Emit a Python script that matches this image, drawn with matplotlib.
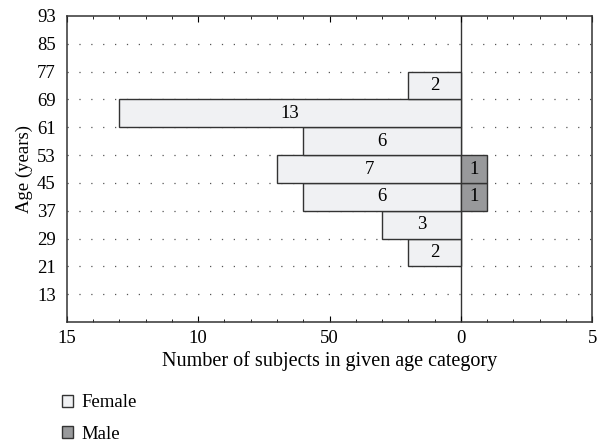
"""Age distribution of subjects by sex, back-to-back horizontal bars."""

import matplotlib

matplotlib.use("Agg")
import matplotlib.pyplot as plt
from matplotlib.patches import Patch

age_bins = [21, 29, 37, 45, 53, 61, 69]
female = [2, 3, 6, 7, 6, 13, 2]
male = [0, 0, 1, 1, 0, 0, 0]
bin_width = 8

y_ticks = [13, 21, 29, 37, 45, 53, 61, 69, 77, 85, 93]
x_ticks = [-15, -10, -5, 0, 5]
x_tick_labels = ["15", "10", "50", "0", "5"]

FEMALE_FC = "#f0f1f3"
MALE_FC = "#98999b"
EDGE = "#333333"
FS = 13.5

plt.rcParams["font.family"] = ["Liberation Serif", "DejaVu Serif"]

fig = plt.figure(figsize=(5.97, 4.43), dpi=100)
ax = fig.add_axes([0.112, 0.273, 0.880, 0.691])

ax.set_xlim(-15, 5)
ax.set_ylim(5, 93)

for y in y_ticks[:-1]:
    ax.axhline(y, color="#555555", lw=0.9, ls=(0, (1, 8.5)), zorder=0)

ax.barh(age_bins, [-v for v in female], height=bin_width, align="edge",
        color=FEMALE_FC, edgecolor=EDGE, lw=1.0, zorder=2)
for y, v in zip(age_bins, female):
    ax.text(-v / 2, y + bin_width / 2, str(v), ha="center", va="center",
            fontsize=FS, zorder=3)

for y, v in zip(age_bins, male):
    if v == 0:
        continue
    ax.barh(y, v, height=bin_width, align="edge", color=MALE_FC,
            edgecolor=EDGE, lw=1.0, zorder=2)
    ax.text(v / 2, y + bin_width / 2, str(v), ha="center", va="center",
            fontsize=FS, zorder=3)

ax.axvline(0, color=EDGE, lw=1.0, zorder=1)

ax.set_xticks(x_ticks)
ax.set_xticklabels(x_tick_labels)
ax.set_xticks(range(-15, 6), minor=True)
ax.set_yticks(y_ticks)
ax.tick_params(axis="x", which="both", direction="in", top=True,
               labelsize=FS, pad=6)
ax.tick_params(axis="x", which="major", length=4)
ax.tick_params(axis="x", which="minor", length=2)
ax.tick_params(axis="y", length=0, labelsize=FS, pad=8)

for s in ax.spines.values():
    s.set_color(EDGE)
    s.set_linewidth(1.1)

ax.set_xlabel("Number of subjects in given age category", fontsize=14.5, labelpad=3)
ax.set_ylabel("Age (years)", fontsize=FS, labelpad=3)

handles = [
    Patch(facecolor=FEMALE_FC, edgecolor=EDGE, label="Female"),
    Patch(facecolor=MALE_FC, edgecolor=EDGE, label="Male"),
]
fig.legend(handles=handles, loc="lower left", bbox_to_anchor=(0.075, -0.037),
           frameon=False, fontsize=FS, handlelength=0.6, handleheight=0.6,
           handletextpad=0.45, labelspacing=0.75)

fig.savefig("out.png", dpi=100, facecolor="white")
